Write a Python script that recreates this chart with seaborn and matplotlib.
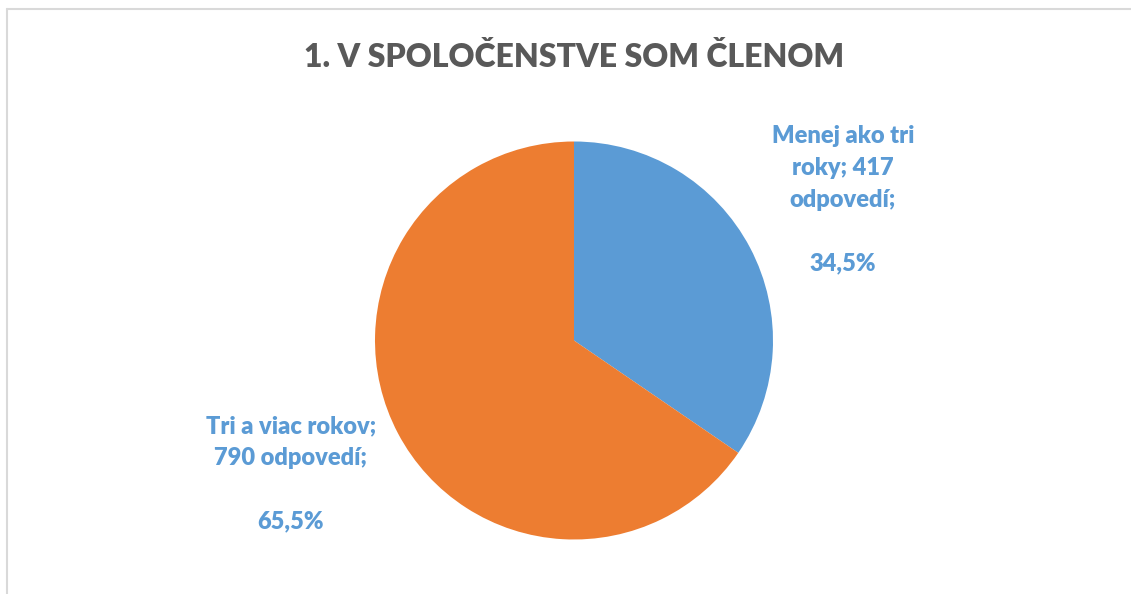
import matplotlib
matplotlib.use('Agg')
import matplotlib.pyplot as plt
import seaborn as sns
from matplotlib.lines import Line2D

categories = ['Menej ako tri roky', 'Tri a viac rokov']
counts = [417, 790]
label_lines = [['Menej ako tri', 'roky; 417', 'odpovedí;'],
               ['Tri a viac rokov;', '790 odpovedí;']]
colors = ['#5B9BD5', '#ED7D31']
title = '1. V SPOLOČENSTVE SOM ČLENOM'

sns.set_theme(style='white')
plt.rcParams['font.family'] = ['Lato', 'DejaVu Sans']

W, H = 1131, 594
fig = plt.figure(figsize=(W / 100, H / 100), dpi=100)
ax = fig.add_axes([0, 0, 1, 1])

# chart border (cut at right/bottom like the screenshot)
fig.add_artist(Line2D([6.5 / W, 6.5 / W], [0, 1 - 9 / H], transform=fig.transFigure,
                      color='#D9D9D9', lw=1.5))
fig.add_artist(Line2D([6.5 / W, 1], [1 - 9 / H, 1 - 9 / H], transform=fig.transFigure,
                      color='#D9D9D9', lw=1.5))

# y axis is flipped (pixel coords), so clockwise from top = ccw from -90
wedges, _ = ax.pie(counts, colors=colors, startangle=-90, counterclock=True,
                   center=(574, 340.5), radius=199, frame=True,
                   wedgeprops=dict(linewidth=0))
ax.set_xlim(0, W)
ax.set_ylim(H, 0)
ax.set_aspect('equal')
ax.axis('off')

total = sum(counts)
pcts = [c / total * 100 for c in counts]
pct_txt = [f'{p:.1f}'.replace('.', ',') + '%' for p in pcts]

label_pos = [(843, 125), (291, 415)]
for lines, pt, (x, y) in zip(label_lines, pct_txt, label_pos):
    txt = '\n'.join(lines) + '\n\n' + pt
    ax.text(x, y, txt, ha='center', va='top', multialignment='center',
            fontsize=17, fontweight='heavy', color='#5B9BD5', linespacing=1.55)

ax.text(574, 67, title, ha='center', va='baseline', fontsize=23,
        fontweight='heavy', color='#595959')

fig.savefig('out.png', dpi=100, facecolor='white')
